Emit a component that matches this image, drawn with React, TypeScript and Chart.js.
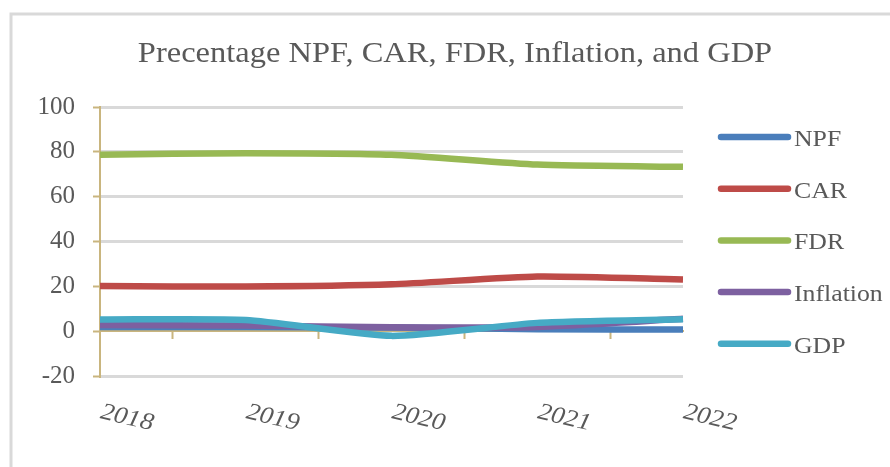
import React, { useEffect, useRef } from "react";
import { Chart, registerables } from "chart.js";

Chart.register(...registerables);

const TITLE = "Precentage NPF, CAR, FDR, Inflation, and GDP";
const YEARS = ["2018", "2019", "2020", "2021", "2022"];
const SERIES_NAMES = ["NPF", "CAR", "FDR", "Inflation", "GDP"];
const NPF = [1.9, 1.9, 1.6, 0.9, 0.7];
const CAR = [20.1, 19.9, 20.9, 24.4, 23.1];
const FDR = [78.7, 79.4, 78.7, 74.3, 73.3];
const INFLATION = [2.8, 2.5, 1.7, 1.9, 5.5];
const GDP = [5.2, 5.0, -2.1, 3.7, 5.3];
const COLORS = ["#4a7ebb", "#be4b48", "#98b954", "#7d60a0", "#46aac5"];
const Y_MIN = -20;
const Y_MAX = 100;
const Y_STEP = 20;

const SERIF = "Liberation Serif";
const TEXT_COLOR = "#595959";
const AXIS_COLOR = "#c9b57e";
const GRID_COLOR = "#d9d9d9";
const SX = 1.12;

const decorPlugin = {
  id: "decor",
  beforeDraw(chart: any) {
    const ctx = chart.ctx;
    ctx.save();
    ctx.strokeStyle = GRID_COLOR;
    ctx.lineWidth = 3;
    ctx.beginPath();
    ctx.moveTo(11, chart.height + 5);
    ctx.lineTo(11, 14);
    ctx.lineTo(chart.width + 5, 14);
    ctx.stroke();
    ctx.restore();
  },
  afterDraw(chart: any) {
    const ctx = chart.ctx;
    ctx.save();
    // title
    ctx.fillStyle = TEXT_COLOR;
    ctx.font = `29px "${SERIF}"`;
    ctx.textAlign = "center";
    ctx.textBaseline = "alphabetic";
    ctx.save();
    ctx.translate(455, 62);
    ctx.scale(SX, 1);
    ctx.fillText(TITLE, 0, 0);
    ctx.restore();

    // legend
    const ds = chart.data.datasets;
    ctx.font = `23px "${SERIF}"`;
    ctx.textAlign = "left";
    for (let i = 0; i < ds.length; i++) {
      const y = 137 + i * 51.7;
      ctx.strokeStyle = ds[i].borderColor;
      ctx.lineWidth = 6.5;
      ctx.lineCap = "round";
      ctx.beginPath();
      ctx.moveTo(721, y);
      ctx.lineTo(788, y);
      ctx.stroke();
      ctx.save();
      ctx.translate(794, y + 9);
      ctx.scale(SX, 1);
      ctx.fillStyle = TEXT_COLOR;
      ctx.fillText(ds[i].label, 0, 0);
      ctx.restore();
    }

    // x labels
    const xs = chart.scales.x;
    ctx.font = `italic 24px "${SERIF}"`;
    ctx.textAlign = "center";
    ctx.textBaseline = "middle";
    const labels = chart.data.labels;
    for (let i = 0; i < labels.length; i++) {
      const px = xs.getPixelForValue(i);
      ctx.save();
      ctx.translate(px + 27, 418);
      ctx.rotate((13 * Math.PI) / 180);
      ctx.scale(SX, 1);
      ctx.fillStyle = TEXT_COLOR;
      ctx.fillText(labels[i], 0, 0);
      ctx.restore();
    }
    ctx.restore();
  },
};

export default function App() {
  const canvasRef = useRef<HTMLCanvasElement | null>(null);

  useEffect(() => {
    if (!canvasRef.current) return;
    const values = [NPF, CAR, FDR, INFLATION, GDP];
    const datasets = SERIES_NAMES.map((name, i) => ({
      label: name,
      data: values[i],
      borderColor: COLORS[i],
      backgroundColor: COLORS[i],
      borderWidth: 6.5,
      pointRadius: 0,
      tension: 0.2,
      fill: false,
      order: SERIES_NAMES.length - 1 - i,
      borderCapStyle: "butt" as const,
      borderJoinStyle: "round" as const,
    }));
    const chart = new Chart(canvasRef.current, {
      type: "line",
      data: { labels: YEARS, datasets },
      plugins: [decorPlugin],
      options: {
        animation: false,
        responsive: true,
        maintainAspectRatio: false,
        layout: { padding: { left: 0, right: 207, top: 107, bottom: 91 } },
        plugins: {
          legend: { display: false },
          title: { display: false },
          tooltip: { enabled: false },
        },
        scales: {
          x: {
            type: "category",
            display: false,
            offset: false,
          },
          x0: {
            type: "category",
            axis: "x",
            labels: YEARS,
            offset: false,
            position: { y: 0 } as any,
            grid: {
              display: true,
              drawOnChartArea: false,
              drawTicks: true,
              tickLength: 7,
              offset: true,
              tickColor: AXIS_COLOR,
              tickWidth: 2,
            },
            border: { display: true, color: AXIS_COLOR, width: 2 },
            ticks: { display: false },
          },
          y: {
            min: Y_MIN,
            max: Y_MAX,
            ticks: {
              stepSize: Y_STEP,
              color: TEXT_COLOR,
              padding: 18,
              font: { family: SERIF, size: 25 },
            },
            grid: {
              color: (c: any) => (c.tick && c.tick.value === 0 ? "rgba(0,0,0,0)" : GRID_COLOR),
              lineWidth: 3,
              tickLength: 7,
              tickColor: AXIS_COLOR,
              tickWidth: 2,
            },
            border: { display: true, color: AXIS_COLOR, width: 2 },
            afterFit: (scale: any) => {
              scale.width = 100;
            },
          },
        },
      },
    });
    return () => chart.destroy();
  }, []);

  return (
    <div style={{ position: "absolute", left: 0, top: 0, width: 890, height: 467, background: "#fff" }}>
      <canvas ref={canvasRef} />
    </div>
  );
}
